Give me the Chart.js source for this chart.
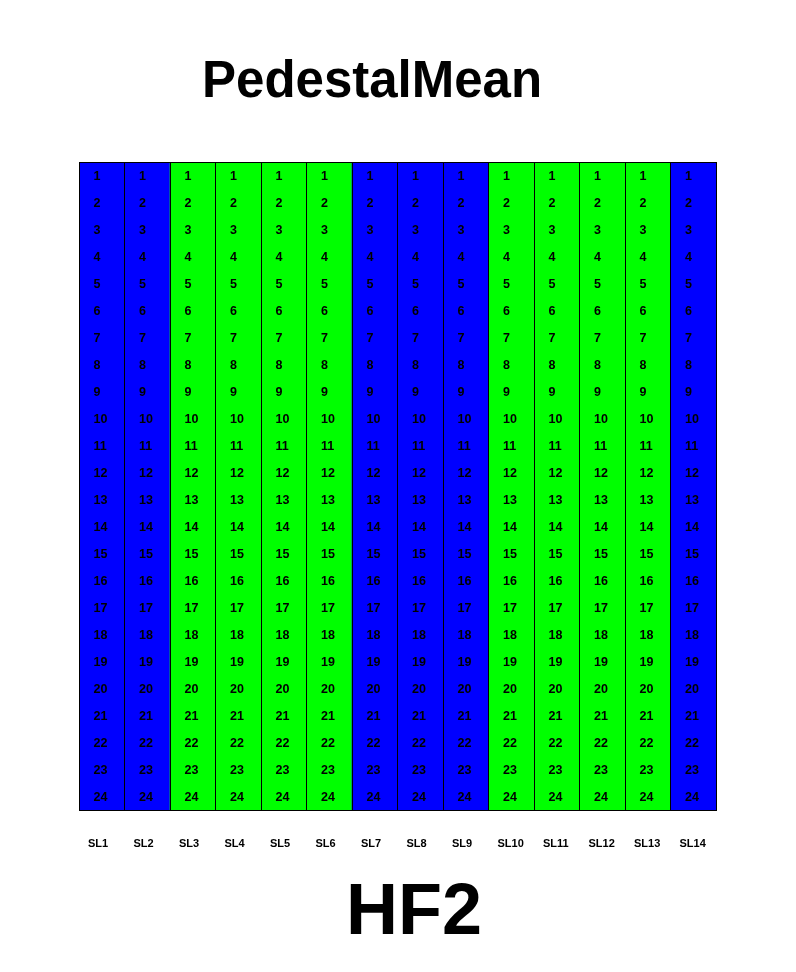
<!DOCTYPE html>
<html>
<head>
<meta charset="utf-8">
<style>
  html, body { margin: 0; padding: 0; background: #ffffff; }
  #wrap { position: relative; width: 796px; height: 972px; }
</style>
<script src="https://cdn.jsdelivr.net/npm/chart.js@4/dist/chart.umd.min.js"></script>
</head>
<body>
<div id="wrap"><canvas id="c" width="796" height="972"></canvas></div>
<script>
// ---- data ----
const slots = ['SL1','SL2','SL3','SL4','SL5','SL6','SL7','SL8','SL9','SL10','SL11','SL12','SL13','SL14'];
const rows = [1,2,3,4,5,6,7,8,9,10,11,12,13,14,15,16,17,18,19,20,21,22,23,24];
// column state: 'B' = blue, 'G' = green
const slotState = ['B','B','G','G','G','G','B','B','B','G','G','G','G','B'];
const titleText = 'PedestalMean';
const subTitleText = 'HF2';

const stateColor = { B: '#0000ff', G: '#00ff00' };
const FONT = '"Liberation Sans", Arial, Helvetica, sans-serif';

const cellLabels = {
  id: 'cellLabels',
  afterDraw(chart) {
    const ctx = chart.ctx;
    const xs = chart.scales.x, ys = chart.scales.y;
    const colW = xs.width / slots.length;
    ctx.save();
    ctx.fillStyle = '#000';
    ctx.textAlign = 'left';
    ctx.textBaseline = 'middle';
    ctx.font = 'bold 12.5px ' + FONT;
    slots.forEach((s, i) => {
      const left = xs.getPixelForValue(i) - colW / 2;
      rows.forEach(r => {
        ctx.fillText(String(r), left + 14.5, ys.getPixelForValue(r - 0.5) + 1.5);
      });
    });
    // slot labels under the grid
    ctx.font = 'bold 11px ' + FONT;
    slots.forEach((s, i) => {
      const left = xs.getPixelForValue(i) - colW / 2;
      ctx.fillText(s, left + 9, chart.chartArea.bottom + 34);
    });
    // titles
    ctx.textBaseline = 'alphabetic';
    ctx.font = 'bold 51px ' + FONT;
    ctx.fillText(titleText, 202, 97);
    ctx.font = 'bold 72px ' + FONT;
    ctx.fillText(subTitleText, 346, 934);
    ctx.restore();
  }
};

new Chart(document.getElementById('c'), {
  type: 'bar',
  data: {
    labels: slots,
    datasets: [{
      data: slots.map(() => [0, rows.length]),
      backgroundColor: slotState.map(s => stateColor[s]),
      borderWidth: 0,
      barPercentage: 1,
      categoryPercentage: 1
    }]
  },
  options: {
    responsive: false,
    animation: false,
    events: [],
    layout: { padding: { left: 79, right: 80, top: 162, bottom: 162 } },
    plugins: { legend: { display: false }, tooltip: { enabled: false }, title: { display: false } },
    scales: {
      x: {
        type: 'category',
        offset: true,
        grid: { offset: true, color: '#000', lineWidth: 1, drawTicks: false, z: 1 },
        border: { display: true, color: '#000', width: 1, z: 1 },
        ticks: { display: false },
        afterFit: s => { s.height = 0; }
      },
      y: {
        min: 0, max: rows.length,
        reverse: true,
        ticks: { display: false, stepSize: rows.length },
        grid: { color: '#000', lineWidth: 1, drawTicks: false, z: 1 },
        border: { display: true, color: '#000', width: 1, z: 1 },
        afterFit: s => { s.width = 0; }
      }
    }
  },
  plugins: [cellLabels]
});
</script>
</body>
</html>
